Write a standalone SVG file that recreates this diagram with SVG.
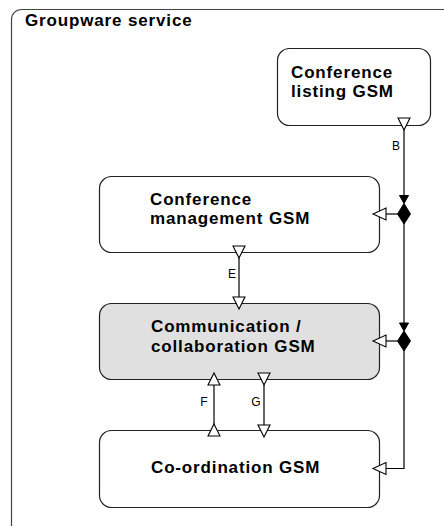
<svg xmlns="http://www.w3.org/2000/svg" width="444" height="526" viewBox="0 0 444 526">
<style>
.node{fill:#fff;stroke:#222;stroke-width:1.2}
.hl{fill:#e0e0e0}
.t{font-family:"Liberation Sans",Arial,sans-serif;font-weight:bold;font-size:17px;letter-spacing:0.85px;fill:#000}
.lbl{font-family:"Liberation Sans",Arial,sans-serif;font-size:12px;fill:#000;text-anchor:middle}
.ln{stroke:#000;stroke-width:1.2;fill:none}
.open{fill:#fff;stroke:#000;stroke-width:1.1}
.fill{fill:#000;stroke:#000;stroke-width:1}
</style>
<rect x="11.5" y="9.5" width="460" height="530" rx="10" fill="#fff" stroke="#444" stroke-width="1.2"/>
<text x="25" y="26" class="t">Groupware service</text>

<g id="conference-listing">
<rect class="node" x="277.5" y="48.5" width="153" height="77" rx="12"/>
<text class="t" x="291" y="78">Conference</text>
<text class="t" x="291" y="97">listing GSM</text>
</g>
<g id="conference-management">
<rect class="node" x="99.5" y="176.5" width="280" height="76" rx="12"/>
<text class="t" x="150" y="205">Conference</text>
<text class="t" x="150" y="224">management GSM</text>
</g>
<g id="communication">
<rect class="node hl" x="99.5" y="303.5" width="280" height="76" rx="12"/>
<text class="t" x="151" y="332">Communication /</text>
<text class="t" x="151" y="352">collaboration GSM</text>
</g>
<g id="coordination">
<rect class="node" x="99.5" y="430.5" width="280" height="77" rx="12"/>
<text class="t" x="151" y="473">Co-ordination GSM</text>
</g>

<g id="connectors">
<!-- B trunk -->
<path class="ln" d="M404 130 V196 M404 223 V323 M404 350 V468.5 H386"/>
<polygon class="open" points="398,118 410,118 404,130"/>
<polygon class="fill" points="399.5,195.5 408.5,195.5 404,203.5"/>
<polygon class="fill" points="404,203.5 410.5,214 404,224 397.5,214"/>
<path class="ln" d="M397.5 214 H386"/>
<polygon class="open" points="386,208 386,220 373,214"/>
<polygon class="fill" points="399.5,323 408.5,323 404,331"/>
<polygon class="fill" points="404,331 410.5,341 404,351 397.5,341"/>
<path class="ln" d="M397.5 341 H386"/>
<polygon class="open" points="386,335 386,347 373,341"/>
<polygon class="open" points="386,462.5 386,474.5 373,468.5"/>
<text class="lbl" x="396" y="149.5">B</text>
<!-- E -->
<path class="ln" d="M239 258 V297"/>
<polygon class="open" points="233,246 245,246 239,258"/>
<polygon class="open" points="233,297 245,297 239,309"/>
<text class="lbl" x="232" y="277.5">E</text>
<!-- F -->
<path class="ln" d="M214 385 V425"/>
<polygon class="open" points="208,385 220,385 214,373"/>
<polygon class="open" points="208,436 220,436 214,424"/>
<text class="lbl" x="204" y="405.5">F</text>
<!-- G -->
<path class="ln" d="M264 385 V425"/>
<polygon class="open" points="258,373 270,373 264,385"/>
<polygon class="open" points="258,425 270,425 264,437"/>
<text class="lbl" x="256" y="405.5">G</text>
</g>
</svg>
